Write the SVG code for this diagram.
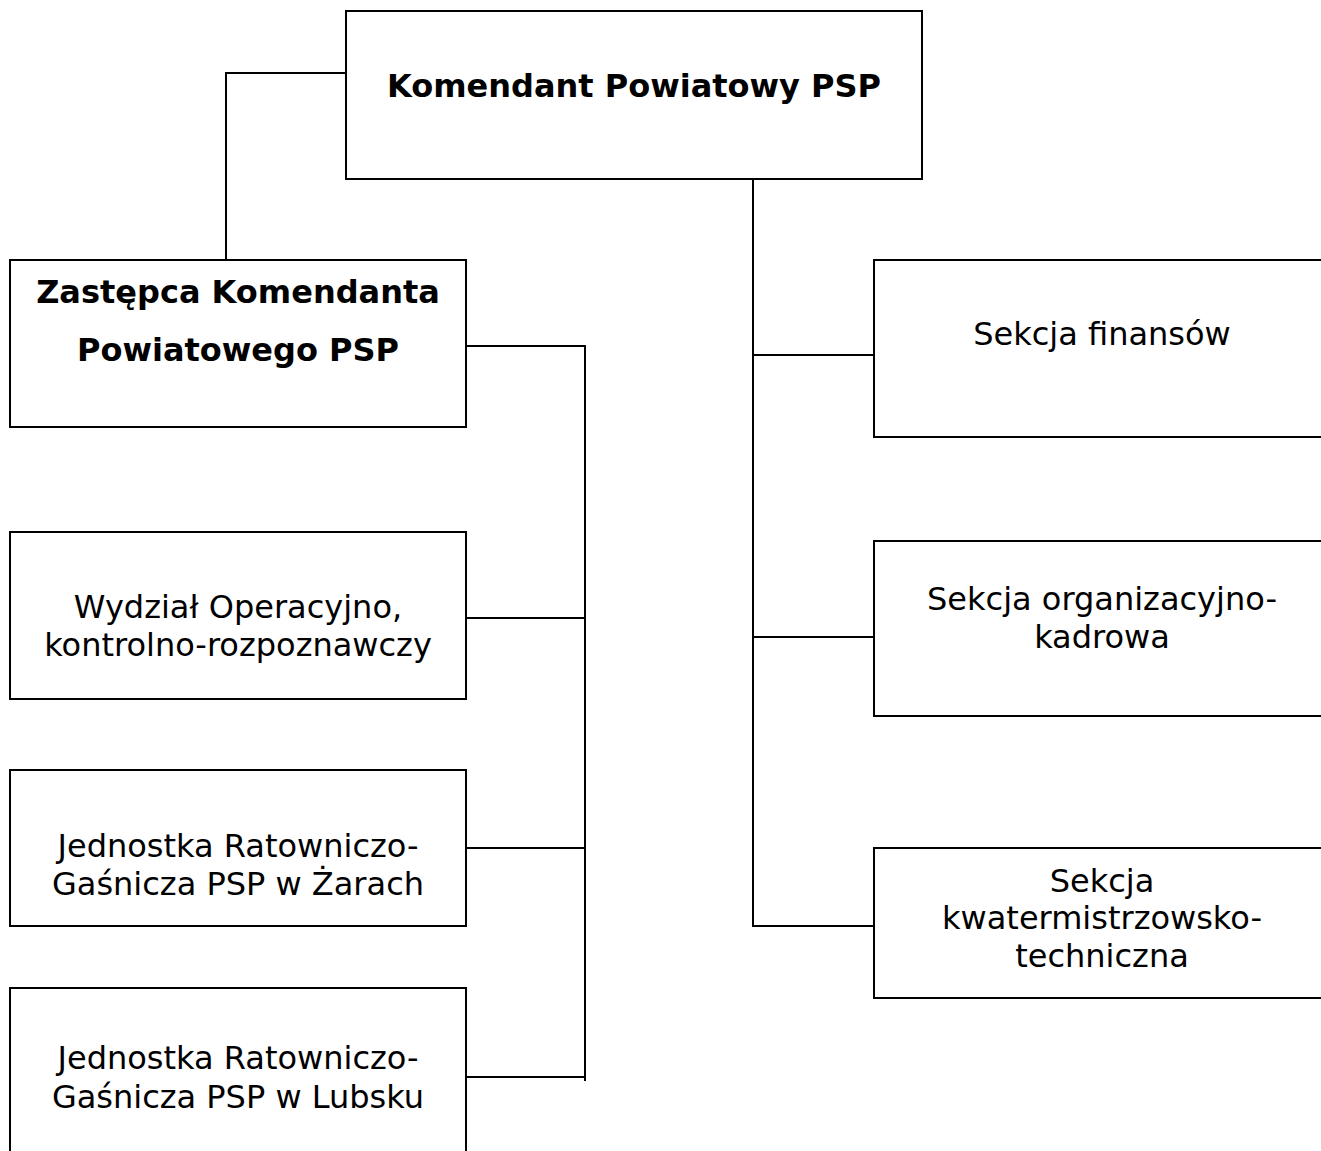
<svg xmlns="http://www.w3.org/2000/svg" width="1321" height="1151" viewBox="0 0 1321 1151">
<style>
.box{fill:#fff;stroke:#000;stroke-width:2}
.ln{fill:none;stroke:#000;stroke-width:2}
text{font-family:Verdana,"DejaVu Sans",sans-serif;font-size:32px;fill:#000;text-anchor:middle}
.b{font-weight:bold}
</style>
<rect width="1321" height="1151" fill="#fff"/>
<g id="connectors">
<polyline class="ln" points="346,73 226,73 226,260"/>
<polyline class="ln" points="466,346 585,346 585,1081"/>
<line class="ln" x1="466" y1="618" x2="585" y2="618"/>
<line class="ln" x1="466" y1="848" x2="585" y2="848"/>
<line class="ln" x1="466" y1="1077" x2="585" y2="1077"/>
<polyline class="ln" points="753,177 753,926 874,926"/>
<line class="ln" x1="753" y1="355" x2="874" y2="355"/>
<line class="ln" x1="753" y1="637" x2="874" y2="637"/>
</g>
<g id="komendant">
<rect class="box" x="346" y="11" width="576" height="168"/>
<text class="b" x="634" y="97">Komendant Powiatowy PSP</text>
</g>
<g id="zastepca">
<rect class="box" x="10" y="260" width="456" height="167"/>
<text class="b" x="238" y="303">Zastępca Komendanta</text>
<text class="b" x="238" y="361">Powiatowego PSP</text>
</g>
<g id="wydzial">
<rect class="box" x="10" y="532" width="456" height="167"/>
<text x="238" y="618">Wydział Operacyjno,</text>
<text x="238" y="656">kontrolno-rozpoznawczy</text>
</g>
<g id="jrg-zary">
<rect class="box" x="10" y="770" width="456" height="156"/>
<text x="238" y="857">Jednostka Ratowniczo-</text>
<text x="238" y="895">Gaśnicza PSP w Żarach</text>
</g>
<g id="jrg-lubsko">
<rect class="box" x="10" y="988" width="456" height="180"/>
<text x="238" y="1069">Jednostka Ratowniczo-</text>
<text x="238" y="1108">Gaśnicza PSP w Lubsku</text>
</g>
<g id="finanse">
<rect class="box" x="874" y="260" width="460" height="177"/>
<text x="1102" y="345">Sekcja finansów</text>
</g>
<g id="organizacyjna">
<rect class="box" x="874" y="541" width="460" height="175"/>
<text x="1102" y="610">Sekcja organizacyjno-</text>
<text x="1102" y="648">kadrowa</text>
</g>
<g id="kwatermistrzowska">
<rect class="box" x="874" y="848" width="460" height="150"/>
<text x="1102" y="892">Sekcja</text>
<text x="1102" y="929">kwatermistrzowsko-</text>
<text x="1102" y="967">techniczna</text>
</g>
</svg>
